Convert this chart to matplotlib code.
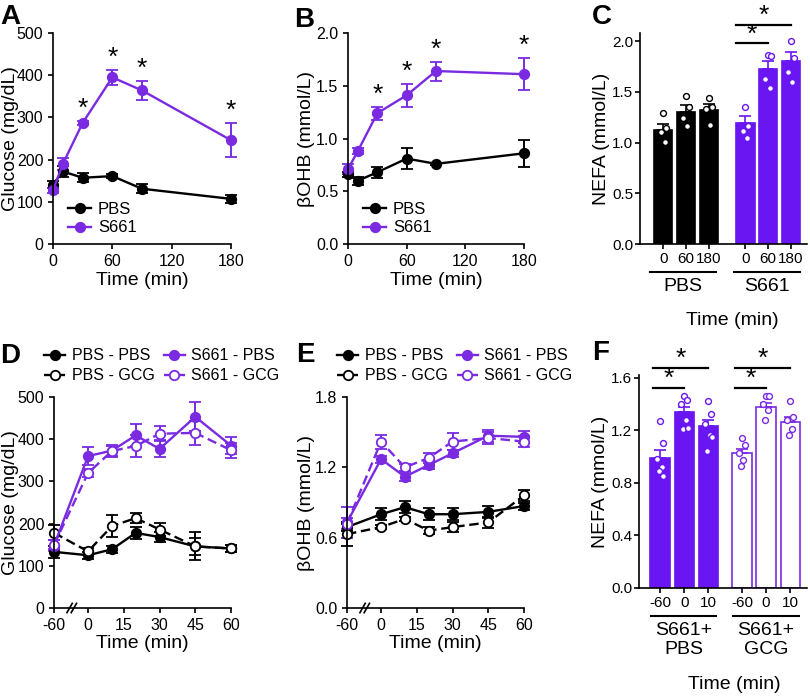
import numpy as np
import matplotlib.pyplot as plt
from matplotlib.transforms import blended_transform_factory

plt.rcParams['font.family'] = ['Liberation Sans', 'DejaVu Sans']
plt.rcParams['axes.linewidth'] = 1.2
plt.rcParams['xtick.major.width'] = 1.2
plt.rcParams['ytick.major.width'] = 1.2
plt.rcParams['xtick.major.size'] = 3.5
plt.rcParams['ytick.major.size'] = 3.5
plt.rcParams['xtick.labelsize'] = 11.5
plt.rcParams['ytick.labelsize'] = 11.5

PURPLE = '#7a2be2'
PURPLE_BAR = '#6a16f2'
FIG_W, FIG_H = 810, 697

# ---- panel A: glucose after S661 ----
a_time = [0, 10, 30, 60, 90, 180]
a_pbs = [141, 172, 157, 161, 131, 107]
a_pbs_err = [8, 14, 11, 5, 11, 9]
a_s661 = [127, 190, 287, 395, 364, 246]
a_s661_err = [5, 15, 5, 17, 22, 40]
a_stars = [30, 60, 90, 180]

# ---- panel B: bOHB after S661 ----
b_time = [0, 10, 30, 60, 90, 180]
b_pbs = [0.66, 0.60, 0.68, 0.81, 0.76, 0.86]
b_pbs_err = [0.02, 0.04, 0.05, 0.10, 0.01, 0.13]
b_s661 = [0.71, 0.88, 1.24, 1.41, 1.64, 1.61]
b_s661_err = [0.05, 0.03, 0.06, 0.11, 0.09, 0.15]
b_stars = [30, 60, 90, 180]

# ---- panel C: NEFA bars ----
c_labels = ['0', '60', '180', '0', '60', '180']
c_groups = ['PBS', 'S661']
c_means = [1.12, 1.30, 1.32, 1.19, 1.73, 1.80]
c_sem = [0.06, 0.07, 0.06, 0.07, 0.07, 0.09]
c_points = [[1.29, 1.14, 1.10, 1.01], [1.46, 1.35, 1.24, 1.16],
            [1.44, 1.35, 1.33, 1.17], [1.35, 1.16, 1.11, 1.05],
            [1.86, 1.85, 1.63, 1.54], [2.00, 1.83, 1.70, 1.60]]

# ---- panel D: glucose, S661 then PBS/GCG ----
d_time = [-60, 0, 10, 20, 30, 45, 60]
d_pbs_pbs = [133, 125, 139, 178, 168, 146, 141]
d_pbs_pbs_err = [15, 8, 9, 14, 11, 33, 9]
d_pbs_gcg = [178, 134, 194, 213, 186, 146, 141]
d_pbs_gcg_err = [18, 8, 26, 12, 15, 20, 8]
d_s661_pbs = [148, 360, 373, 409, 377, 453, 385]
d_s661_pbs_err = [12, 22, 14, 26, 20, 34, 20]
d_s661_gcg = [150, 320, 372, 384, 413, 415, 374]
d_s661_gcg_err = [10, 10, 12, 27, 18, 28, 18]

# ---- panel E: bOHB, S661 then PBS/GCG ----
e_time = [-60, 0, 10, 20, 30, 45, 60]
e_pbs_pbs = [0.69, 0.80, 0.86, 0.80, 0.80, 0.82, 0.87]
e_pbs_pbs_err = [0.03, 0.05, 0.05, 0.05, 0.05, 0.05, 0.03]
e_pbs_gcg = [0.63, 0.69, 0.76, 0.66, 0.69, 0.73, 0.96]
e_pbs_gcg_err = [0.10, 0.02, 0.02, 0.03, 0.04, 0.05, 0.05]
e_s661_pbs = [0.73, 1.27, 1.12, 1.22, 1.32, 1.47, 1.46]
e_s661_pbs_err = [0.13, 0.03, 0.04, 0.03, 0.03, 0.05, 0.05]
e_s661_gcg = [0.72, 1.42, 1.20, 1.28, 1.42, 1.45, 1.42]
e_s661_gcg_err = [0.05, 0.06, 0.03, 0.04, 0.07, 0.05, 0.05]

# ---- panel F: NEFA bars ----
f_labels = ['-60', '0', '10', '-60', '0', '10']
f_groups = ['S661+\nPBS', 'S661+\nGCG']
f_means = [0.99, 1.34, 1.23, 1.03, 1.38, 1.26]
f_sem = [0.06, 0.04, 0.05, 0.03, 0.03, 0.04]
f_points = [[1.27, 1.10, 0.98, 0.92, 0.89, 0.85],
            [1.46, 1.43, 1.40, 1.28, 1.21, 1.22],
            [1.42, 1.32, 1.25, 1.16, 1.04, 1.15],
            [1.14, 1.09, 1.03, 0.97, 0.93],
            [1.46, 1.46, 1.40, 1.35, 1.28],
            [1.42, 1.30, 1.28, 1.21, 1.16]]

legend_labels = ['PBS - PBS', 'PBS - GCG', 'S661 - PBS', 'S661 - GCG']


def clean(ax):
    for s in ['top', 'right']:
        ax.spines[s].set_visible(False)


def ylab(ax, text, px):
    # put the y label so that its right side sits at figure pixel px
    ax.set_ylabel(text, fontsize=14)
    box = ax.get_position()
    xf = (px / FIG_W - box.x0) / box.width
    ax.yaxis.set_label_coords(xf, 0.5)


def series(ax, x, y, err, color, open_marker=False, dashed=False):
    c = ax.errorbar(x, y, yerr=err, color=color, marker='o', ms=6.8,
                    mfc='white' if open_marker else color, mec=color, mew=1.3,
                    lw=1.7, ls='--' if dashed else '-', capsize=4.5,
                    capthick=1.4, elinewidth=1.4, clip_on=False)
    for art in c.lines[1] + c.lines[2] + (c.lines[0],):
        art.set_clip_on(False)
    if dashed:
        c.lines[0].set_dashes((4, 2))
    return c[0]


def stars(ax, xs, x, y, err):
    for t in xs:
        i = x.index(t)
        ax.annotate('*', (t, y[i] + err[i]), xytext=(0, 0), textcoords='offset points',
                    ha='center', va='bottom', fontsize=19)


def bars(ax, pos, means, sem, points, edge, fill, dot_edge):
    ax.bar(pos, means, width=0.8, color=fill, edgecolor=edge, linewidth=1.2, zorder=2)
    ax.errorbar(pos, means, yerr=[np.zeros(len(sem)), sem], fmt='none', ecolor=edge,
                elinewidth=1.2, capsize=4, capthick=1.2, zorder=3)
    offs = [0.0, 0.12, -0.12, 0.06, -0.06, 0.14]
    for p, pts in zip(pos, points):
        xs = [p + offs[k % len(offs)] for k in range(len(pts))]
        ax.scatter(xs, pts, s=18, facecolor='white', edgecolor=dot_edge,
                   linewidth=1.0, zorder=4, clip_on=False)


def sig(ax, x0, x1, y, star_dy):
    ax.plot([x0, x1], [y, y], color='black', lw=1.6, clip_on=False)
    ax.text((x0 + x1) / 2, y + star_dy, '*', ha='center', va='center', fontsize=19)


def group_lines(ax, spans, names, y_line, y_text):
    tr = blended_transform_factory(ax.transData, ax.transAxes)
    for (x0, x1), n in zip(spans, names):
        ax.plot([x0, x1], [y_line, y_line], color='black', lw=1.5, transform=tr, clip_on=False)
        ax.text((x0 + x1) / 2, y_text, n, transform=tr, ha='center', va='top',
                fontsize=14, linespacing=1.15)


def fwd(x):
    x = np.asarray(x, dtype=float)
    return np.where(x < 0, x * 14.3 / 60, x)


def inv(x):
    x = np.asarray(x, dtype=float)
    return np.where(x < 0, x * 60 / 14.3, x)


def break_mark(ax, xf):
    for dx in (-0.012, 0.012):
        ax.plot([xf + dx - 0.015, xf + dx + 0.015], [-0.022, 0.022], color='black',
                lw=1.2, transform=ax.transAxes, clip_on=False)


fig = plt.figure(figsize=(8.1, 6.97), dpi=100)

# A
axA = fig.add_axes([0.0654, 0.6499, 0.2198, 0.3027])
hA1 = series(axA, a_time, a_pbs, a_pbs_err, 'black')
hA2 = series(axA, a_time, a_s661, a_s661_err, PURPLE)
stars(axA, a_stars, a_time, a_s661, a_s661_err)
axA.set_xlim(0, 180)
axA.set_ylim(0, 500)
axA.set_xticks([0, 60, 120, 180])
axA.set_yticks([0, 100, 200, 300, 400, 500])
axA.set_xlabel('Time (min)', fontsize=14, labelpad=2)
ylab(axA, 'Glucose (mg/dL)', 19)
axA.legend([hA1, hA2], ['PBS', 'S661'], loc='upper left', bbox_to_anchor=(0.0, 0.27),
           frameon=False, fontsize=12, handlelength=1.4, handletextpad=0.4,
           labelspacing=0.2)
clean(axA)

# B
axB = fig.add_axes([0.4296, 0.6499, 0.2173, 0.3027])
hB1 = series(axB, b_time, b_pbs, b_pbs_err, 'black')
hB2 = series(axB, b_time, b_s661, b_s661_err, PURPLE)
stars(axB, b_stars, b_time, b_s661, b_s661_err)
axB.set_xlim(0, 180)
axB.set_ylim(0, 2.0)
axB.set_xticks([0, 60, 120, 180])
axB.set_yticks([0, 0.5, 1.0, 1.5, 2.0])
axB.set_yticklabels(['0.0', '0.5', '1.0', '1.5', '2.0'])
axB.set_xlabel('Time (min)', fontsize=14, labelpad=2)
ylab(axB, 'βOHB (mmol/L)', 315)
axB.legend([hB1, hB2], ['PBS', 'S661'], loc='upper left', bbox_to_anchor=(0.0, 0.27),
           frameon=False, fontsize=12, handlelength=1.4, handletextpad=0.4,
           labelspacing=0.2)
clean(axB)

# C
axC = fig.add_axes([0.7901, 0.6499, 0.2062, 0.3027])
c_pos = [0, 1, 2, 3.6, 4.6, 5.6]
bars(axC, c_pos[:3], c_means[:3], c_sem[:3], c_points[:3], 'black', 'black', 'black')
bars(axC, c_pos[3:], c_means[3:], c_sem[3:], c_points[3:], PURPLE_BAR, PURPLE_BAR, PURPLE_BAR)
axC.set_xlim(-1.02, 6.3)
axC.set_ylim(0, 2.08)
axC.set_yticks([0, 0.5, 1.0, 1.5, 2.0])
axC.set_yticklabels(['0.0', '0.5', '1.0', '1.5', '2.0'])
axC.set_xticks(c_pos)
axC.set_xticklabels(c_labels)
axC.tick_params(labelsize=11)
axC.tick_params(axis='x', pad=2)
axC.tick_params(axis='y', pad=1.5)
ylab(axC, 'NEFA (mmol/L)', 610)
sig(axC, 3.2, 4.6, 1.98, 0.08)
sig(axC, 3.2, 5.6, 2.16, 0.09)
group_lines(axC, [(-0.58, 2.3), (3.1, 6.0)], c_groups, -0.133, -0.16)
axC.text(0.55, -0.32, 'Time (min)', transform=axC.transAxes, ha='center', va='top', fontsize=14)
clean(axC)

# D
axD = fig.add_axes([0.0667, 0.1277, 0.2185, 0.3027])
axD.set_xscale('function', functions=(fwd, inv))
h1 = series(axD, d_time, d_pbs_pbs, d_pbs_pbs_err, 'black')
h2 = series(axD, d_time, d_pbs_gcg, d_pbs_gcg_err, 'black', open_marker=True, dashed=True)
h3 = series(axD, d_time, d_s661_pbs, d_s661_pbs_err, PURPLE)
h4 = series(axD, d_time, d_s661_gcg, d_s661_gcg_err, PURPLE, open_marker=True, dashed=True)
axD.set_xlim(-60, 60)
axD.set_ylim(0, 500)
axD.set_xticks([-60, 0, 15, 30, 45, 60])
axD.set_xticklabels(['-60', '0', '15', '30', '45', '60'])
axD.set_yticks([0, 100, 200, 300, 400, 500])
axD.set_xlabel('Time (min)', fontsize=14, labelpad=2)
ylab(axD, 'Glucose (mg/dL)', 19)
break_mark(axD, 0.10)
axD.legend([h1, h2, h3, h4], legend_labels, ncol=2, loc='upper left',
           bbox_to_anchor=(38 / FIG_W, 1 - 342 / FIG_H), bbox_transform=fig.transFigure,
           frameon=False, fontsize=11.5, handlelength=1.3, handletextpad=0.4,
           labelspacing=0.3, columnspacing=0.6, borderaxespad=0)
clean(axD)

# E
axE = fig.add_axes([0.4284, 0.1277, 0.2185, 0.3027])
axE.set_xscale('function', functions=(fwd, inv))
g1 = series(axE, e_time, e_pbs_pbs, e_pbs_pbs_err, 'black')
g2 = series(axE, e_time, e_pbs_gcg, e_pbs_gcg_err, 'black', open_marker=True, dashed=True)
g3 = series(axE, e_time, e_s661_pbs, e_s661_pbs_err, PURPLE)
g4 = series(axE, e_time, e_s661_gcg, e_s661_gcg_err, PURPLE, open_marker=True, dashed=True)
axE.set_xlim(-60, 60)
axE.set_ylim(0, 1.8)
axE.set_xticks([-60, 0, 15, 30, 45, 60])
axE.set_xticklabels(['-60', '0', '15', '30', '45', '60'])
axE.set_yticks([0, 0.6, 1.2, 1.8])
axE.set_yticklabels(['0.0', '0.6', '1.2', '1.8'])
axE.set_xlabel('Time (min)', fontsize=14, labelpad=2)
ylab(axE, 'βOHB (mmol/L)', 315)
break_mark(axE, 0.10)
axE.legend([g1, g2, g3, g4], legend_labels, ncol=2, loc='upper left',
           bbox_to_anchor=(331 / FIG_W, 1 - 342 / FIG_H), bbox_transform=fig.transFigure,
           frameon=False, fontsize=11.5, handlelength=1.3, handletextpad=0.4,
           labelspacing=0.3, columnspacing=0.6, borderaxespad=0)
clean(axE)

# F
axF = fig.add_axes([0.7889, 0.1564, 0.2074, 0.3056])
f_pos = [0, 1, 2, 3.4, 4.4, 5.4]
bars(axF, f_pos[:3], f_means[:3], f_sem[:3], f_points[:3], PURPLE_BAR, PURPLE_BAR, PURPLE_BAR)
bars(axF, f_pos[3:], f_means[3:], f_sem[3:], f_points[3:], PURPLE, 'white', PURPLE)
axF.set_xlim(-0.875, 6.1)
axF.set_ylim(0, 1.62)
axF.set_yticks([0, 0.4, 0.8, 1.2, 1.6])
axF.set_yticklabels(['0.0', '0.4', '0.8', '1.2', '1.6'])
axF.set_xticks(f_pos)
axF.set_xticklabels(f_labels)
axF.tick_params(labelsize=11)
axF.tick_params(axis='x', pad=2)
axF.tick_params(axis='y', pad=1.5)
ylab(axF, 'NEFA (mmol/L)', 609)
sig(axF, -0.3, 1.0, 1.52, 0.07)
sig(axF, -0.3, 2.0, 1.67, 0.07)
sig(axF, 3.1, 4.4, 1.52, 0.07)
sig(axF, 3.1, 5.4, 1.67, 0.07)
group_lines(axF, [(-0.375, 2.33), (3.04, 5.75)], f_groups, -0.131, -0.16)
axF.text(0.57, -0.455, 'Time (min)', transform=axF.transAxes, ha='center', va='center',
         fontsize=14)
clean(axF)

# panel letters
for x, y, s in [(0, 4, 'A'), (294, 7, 'B'), (592, 4, 'C'),
                (0, 343, 'D'), (296, 342, 'E'), (592, 340, 'F')]:
    fig.text(x / FIG_W, 1 - y / FIG_H, s, fontsize=20, fontweight='bold', va='top', ha='left')

fig.savefig('out.png', dpi=100)
